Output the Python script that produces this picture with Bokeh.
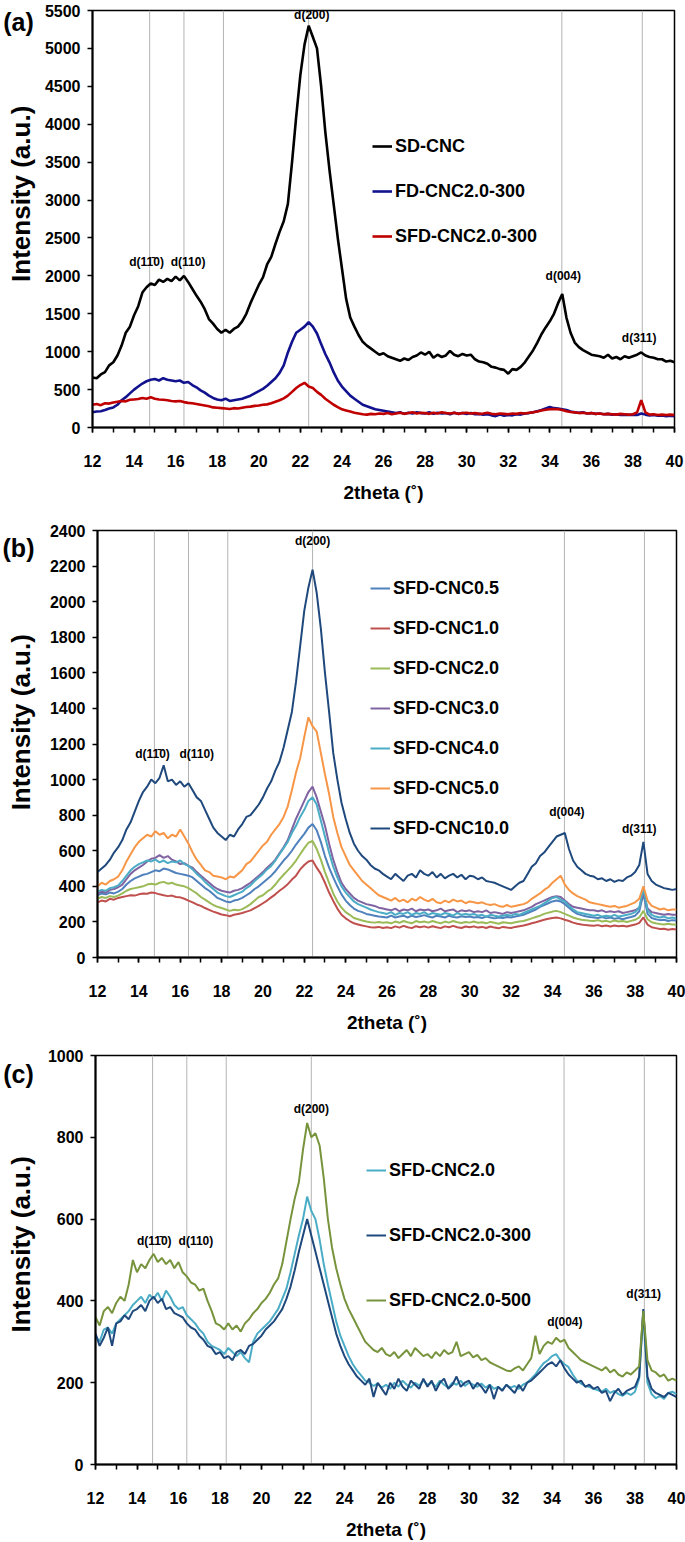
import math
from bokeh.plotting import figure
from bokeh.layouts import column, row
from bokeh.models import (Legend, LegendItem, Span, Label, Range1d,
                          SingleIntervalTicker)
from bokeh.embed import file_html
from bokeh.resources import INLINE

# ---------------- data ----------------
# 2theta sampling grid (12 .. 40, step 0.2)
theta = [round(12 + 0.2 * i, 1) for i in range(141)]

# panel (a)
sd_cnc = [
    660, 650, 700, 730, 820, 860, 950, 1080, 1250, 1330,
    1480, 1600, 1780, 1850, 1900, 1880, 1950, 1920, 1960, 1930,
    1990, 1940, 2000, 1920, 1830, 1740, 1660, 1560, 1430, 1370,
    1300, 1250, 1290, 1250, 1300, 1330, 1400, 1500, 1640, 1760,
    1880, 1980, 2150, 2250, 2420, 2580, 2720, 2950, 3500, 4100,
    4650, 5050, 5300, 5150, 5000, 4500, 3900, 3400, 2950, 2500,
    2100, 1700, 1450, 1330, 1220, 1130, 1080, 1040, 1000, 960,
    980, 940, 920, 900, 880, 910, 890, 930, 950, 990,
    960, 1000, 920, 960, 930, 950, 1010, 960, 940, 970,
    950, 960, 900, 870, 860, 840, 800, 790, 770, 760,
    710, 770, 760, 800, 860, 940, 1020, 1120, 1230, 1320,
    1400, 1500, 1640, 1760, 1450, 1250, 1120, 1060, 1020, 990,
    960, 950, 940, 920, 960, 910, 930, 900, 940, 920,
    940, 960, 990, 950, 930, 920, 900, 900, 870, 880,
    860]
fd_cnc20_300 = [
    200, 210, 215, 230, 250, 265, 300, 360, 400, 450,
    500, 540, 580, 610, 630, 640, 620, 650, 630, 620,
    610, 620, 590, 600, 560, 530, 490, 460, 420, 390,
    370, 360, 380, 350, 360, 370, 380, 400, 420, 450,
    480, 510, 550, 600, 650, 720, 820, 990, 1130, 1250,
    1290, 1330, 1390, 1330, 1240, 1100, 970, 860, 730, 620,
    540, 480, 420, 380, 340, 300, 280, 260, 240, 230,
    220, 210, 200, 190, 200, 180, 195, 185, 200, 190,
    185, 200, 180, 195, 185, 190, 175, 195, 180, 190,
    180, 190, 175, 180, 170, 175, 160, 150, 170, 155,
    165, 160, 175, 170, 185, 190, 200, 215, 230, 250,
    270, 255, 250, 240, 230, 210, 200, 195, 200, 185,
    190, 180, 185, 175, 180, 170, 175, 165, 170, 165,
    170, 165, 185, 170, 160, 165, 155, 160, 150, 155,
    150]
sfd_cnc20_300_a = [
    300, 310, 295, 320, 315, 330, 340, 350, 345, 365,
    370, 375, 390, 380, 400, 380, 370, 365, 360, 350,
    345, 350, 335, 325, 320, 310, 300, 290, 280, 265,
    260, 255, 250, 245, 255, 250, 260, 270, 275, 285,
    290, 300, 305, 320, 340, 360, 385, 420, 470, 520,
    560, 590, 540, 520, 470, 430, 380, 340, 300, 270,
    240, 225, 210, 195, 185, 175, 170, 180, 175, 185,
    180, 190, 175, 185, 195, 180, 190, 200, 185, 195,
    190, 180, 195, 185, 200, 190, 185, 195, 180, 190,
    195, 185, 190, 180, 185, 195, 180, 175, 185, 180,
    175, 185, 180, 190, 185, 195, 200, 210, 225, 235,
    240, 245, 240, 230, 215, 205, 200, 190, 195, 185,
    190, 180, 185, 175, 180, 175, 170, 180, 175, 170,
    175, 200, 360, 200, 170, 175, 165, 170, 165, 170,
    165]

# panel (b)
sfd_cnc05 = [
    350, 360, 355, 365, 360, 370, 385, 410, 430, 445,
    455, 465, 470, 480, 490, 485, 500, 495, 485, 475,
    470, 465, 460, 450, 430, 410, 390, 375, 355, 335,
    325, 315, 310, 320, 325, 335, 350, 365, 385, 400,
    420, 440, 460, 485, 515, 545, 570, 600, 635, 665,
    695, 730, 750, 715, 650, 570, 505, 450, 400, 355,
    320, 295, 275, 262, 255, 245, 240, 235, 230, 228,
    225, 235, 225, 230, 235, 225, 235, 228, 232, 238,
    230, 225, 235, 230, 225, 235, 228, 225, 232, 228,
    230, 225, 228, 222, 230, 225, 220, 225, 222, 228,
    225, 230, 235, 240, 250, 260, 270, 285, 295, 305,
    315, 320, 315, 300, 280, 260, 245, 238, 232, 228,
    225, 222, 228, 220, 225, 218, 222, 215, 222, 228,
    235, 260, 360, 245, 222, 215, 210, 212, 205, 210,
    208]
sfd_cnc10 = [
    310, 320, 315, 330, 325, 335, 340, 345, 350, 348,
    355, 360, 358, 365, 362, 355, 350, 345, 348, 340,
    338, 330, 320, 310, 298, 290, 278, 268, 258, 250,
    242, 238, 232, 240, 245, 250, 258, 265, 278, 290,
    305, 320, 338, 355, 375, 392, 412, 438, 460, 495,
    520, 540, 545, 505, 470, 420, 365, 318, 275, 240,
    220, 205, 192, 186, 180, 175, 170, 168, 172, 166,
    170, 165, 175, 168, 178, 170, 165, 176, 170, 175,
    168, 176, 170, 165, 175, 170, 178, 170, 166, 174,
    170, 175, 168, 172, 166, 174, 168, 164, 172, 168,
    166, 172, 176, 180, 186, 192, 198, 205, 212, 218,
    222, 225, 220, 212, 205, 196, 190, 185, 182, 180,
    178, 182, 176, 180, 174, 180, 176, 178, 174, 180,
    185, 195, 225, 185, 170, 165, 160, 162, 156, 160,
    158]
sfd_cnc20 = [
    330, 340, 335, 345, 340, 348, 360, 375, 385, 390,
    395, 400, 410, 415, 410, 420, 425, 415, 420, 410,
    405, 400, 390, 375, 360, 340, 325, 310, 295, 285,
    278, 270, 262, 268, 265, 272, 285, 300, 320, 340,
    350, 370, 385, 410, 440, 465, 490, 515, 545, 580,
    615, 645, 655, 610, 550, 480, 420, 360, 315, 280,
    255, 240, 222, 215, 208, 202, 198, 196, 200, 195,
    198, 192, 202, 195, 205, 198, 192, 205, 198, 202,
    196, 205, 198, 192, 202, 196, 205, 198, 194, 200,
    196, 202, 195, 198, 192, 200, 195, 190, 198, 195,
    192, 198, 202, 205, 212, 220, 228, 235, 245, 252,
    258, 262, 255, 245, 235, 225, 218, 212, 210, 206,
    205, 210, 202, 206, 200, 208, 202, 205, 200, 206,
    212, 225, 262, 215, 198, 192, 188, 185, 190, 185,
    185]
sfd_cnc30 = [
    360, 370, 365, 380, 385, 395, 410, 440, 470, 490,
    505, 520, 540, 555, 560, 575, 560, 570, 550, 540,
    525, 530, 515, 505, 480, 460, 440, 420, 400, 385,
    375, 370, 365, 375, 380, 390, 405, 420, 440, 460,
    480, 505, 525, 550, 585, 620, 660, 720, 780, 830,
    880, 930, 960, 900, 820, 740, 640, 550, 480, 420,
    385, 360, 335, 320, 310, 300, 295, 290, 280, 275,
    270, 265, 275, 260, 270, 265, 275, 260, 270, 265,
    270, 260, 265, 275, 260, 265, 270, 255, 265, 260,
    265, 255, 260, 255, 265, 250, 255, 250, 245, 255,
    250, 255, 260, 265, 275, 285, 300, 310, 320, 330,
    340, 345, 340, 320, 300, 285, 280, 275, 270, 265,
    265, 260, 265, 255, 260, 255, 260, 250, 255, 260,
    265, 280, 365, 275, 255, 250, 245, 240, 245, 240,
    240]
sfd_cnc40 = [
    370, 380, 375, 390, 395, 405, 430, 460, 490, 510,
    525, 535, 545, 540, 550, 535, 545, 530, 540, 535,
    545, 525, 515, 495, 470, 450, 425, 405, 385, 365,
    355, 345, 340, 350, 360, 370, 390, 405, 430, 450,
    470, 495, 515, 545, 580, 615, 650, 700, 740, 790,
    830, 880, 900, 860, 770, 680, 590, 510, 450, 400,
    365, 340, 315, 300, 290, 280, 270, 262, 255, 250,
    245, 255, 240, 250, 245, 255, 240, 250, 245, 255,
    240, 250, 245, 240, 250, 245, 235, 250, 240, 245,
    240, 245, 235, 240, 230, 240, 235, 230, 235, 240,
    235, 245, 240, 250, 260, 270, 280, 290, 305, 320,
    335, 340, 325, 315, 290, 270, 255, 250, 245, 240,
    235, 240, 230, 235, 230, 240, 230, 235, 240, 245,
    255, 280, 390, 265, 240, 230, 225, 230, 220, 225,
    220]
sfd_cnc50 = [
    400, 420, 410, 430, 440, 455, 490, 540, 580, 620,
    650, 670, 690, 680, 710, 690, 700, 670, 690, 680,
    720, 680, 640, 590, 550, 520, 490, 480, 460, 455,
    450, 440, 455, 450, 470, 490, 525, 540, 570, 600,
    630, 650, 690, 720, 750, 790, 850, 940, 1040, 1120,
    1240, 1350, 1300, 1270, 1150, 1030, 920, 790, 700, 620,
    570, 520, 490, 460, 430, 410, 390, 370, 350, 340,
    330, 320, 335, 315, 325, 310, 330, 320, 340, 325,
    315, 330, 310, 305, 320, 310, 325, 315, 320, 305,
    315, 310, 305, 310, 300, 295, 300, 290, 285, 295,
    285, 290, 295, 300, 310, 330, 345, 360, 380, 395,
    420, 440, 460, 410, 380, 360, 345, 335, 325, 310,
    305, 300, 295, 290, 285, 290, 280, 285, 290, 300,
    310, 330, 400, 320, 290, 280, 270, 275, 265, 270,
    270]
sfd_cnc100 = [
    480, 500, 520, 550, 590, 620, 660, 720, 760, 820,
    880, 930, 960, 1000, 980, 1010, 1080, 990, 1000, 970,
    990, 960, 980, 940, 900, 880, 830, 780, 730, 700,
    680, 660, 690, 680, 720, 750, 790, 800, 830, 860,
    900, 950, 990, 1050, 1100, 1180, 1280, 1380, 1550, 1750,
    1950, 2080, 2180, 2050, 1850, 1600, 1380, 1150, 1000, 870,
    780, 700, 640, 600, 570, 550, 520, 500, 490, 470,
    455, 440, 470, 450, 430, 460, 470, 450, 490, 470,
    460, 480, 450, 470, 445, 460, 470, 450, 465, 440,
    460, 455, 440, 450, 430, 425, 420, 410, 400, 390,
    380, 400, 420, 430, 470, 510, 530, 570, 590, 620,
    650, 680, 690, 700, 610, 545, 510, 490, 470, 460,
    455, 440, 445, 430, 440, 425, 435, 430, 450, 460,
    480, 520, 650, 470, 430, 410, 400, 390, 385, 380,
    385]

# panel (c)
sfd_cnc20_c = [
    315, 300, 330, 335, 320, 345, 355, 365, 375, 390,
    400, 410, 395, 415, 405, 420, 400, 425, 410, 390,
    380, 385, 365, 355, 345, 330, 320, 300, 290, 285,
    280, 270, 285, 275, 265, 275, 260, 250, 300, 320,
    330, 340, 350, 365, 380, 405, 430, 470, 515, 560,
    600, 655, 620, 600, 550, 490, 440, 395, 350, 315,
    290, 265, 245, 230, 218, 205, 200, 192, 198, 188,
    195, 185, 200, 190, 205, 195, 188, 200, 193, 205,
    195, 200, 190, 205, 195, 188, 200, 195, 205, 192,
    200, 195, 190, 198, 188, 195, 185, 190, 182, 195,
    188, 192, 185, 195, 200, 210, 220, 235, 248, 255,
    265, 270, 255, 245, 238, 220, 205, 198, 192, 190,
    185, 182, 178, 185, 175, 180, 172, 168, 175, 170,
    178, 210, 370, 200, 172, 162, 168, 160, 175, 178,
    172]
sfd_cnc20_300_c = [
    320, 290, 310, 335, 290, 345, 350, 365, 355, 375,
    380, 390, 375, 400, 410, 395, 405, 380, 385, 370,
    365, 360, 345, 335, 330, 315, 305, 290, 285, 270,
    275, 260, 265, 255, 275, 280, 270, 290, 295, 305,
    315, 330, 340, 350, 365, 380, 405, 435, 475, 520,
    560, 600, 560, 520, 480, 440, 400, 360, 320, 290,
    265, 245, 230, 215, 205, 195, 210, 165, 200, 185,
    170, 200, 185, 210, 190, 180, 205, 195, 185, 210,
    190, 205, 180, 200, 210, 185, 195, 215, 190, 200,
    205, 185, 200, 190, 175, 195, 160, 190, 180, 195,
    185, 175, 195, 180, 200, 205, 215, 225, 235, 245,
    250, 240, 255, 235, 220, 210, 200, 205, 190, 195,
    185, 190, 175, 180, 155, 175, 185, 170, 180, 185,
    190, 215, 380, 215, 185, 175, 170, 165, 175, 170,
    165]
sfd_cnc20_500_c = [
    360, 340, 375, 385, 370, 395, 410, 400, 440, 500,
    470, 490, 480, 500, 515, 495, 505, 490, 500, 480,
    495, 470, 460, 445, 440, 425, 430, 400, 375, 345,
    340, 330, 345, 330, 340, 325, 345, 355, 370, 380,
    395, 405, 420, 440, 455, 490, 545, 600, 650, 690,
    770, 835, 800, 810, 780, 700, 600, 530, 480, 440,
    405, 380, 360, 340, 320, 300, 290, 280, 275, 285,
    270, 265, 275, 260, 270, 280, 265, 285, 275, 265,
    270, 260, 275, 265, 280, 270, 275, 300, 265, 270,
    275, 262, 268, 255, 260, 250, 245, 240, 235, 230,
    228, 235, 240, 230, 245, 260, 315, 270, 290, 300,
    295, 310, 300, 305, 285, 275, 265, 255, 250, 245,
    240, 235, 230, 238, 225, 232, 220, 215, 225, 220,
    230, 240, 375, 255, 230, 225, 215, 220, 205, 210,
    205]

# reference lines at the reflections
peak_lines = [14.75, 16.4, 18.3, 22.4, 34.58, 38.45]
x_ticks_step = 2

FONT = "Liberation Sans"
STRIP = 40          # left strip holding panel letter and y title
W = 685 - STRIP


def make_fig(height, ymax, ystep, b_top, b_bottom, b_left, b_right):
    p = figure(width=W, height=height, x_range=Range1d(12, 40),
               y_range=Range1d(0, ymax), output_backend="svg",
               toolbar_location=None, min_border_top=b_top,
               min_border_bottom=b_bottom, min_border_left=b_left,
               min_border_right=b_right)
    p.xgrid.visible = False
    p.ygrid.visible = False
    p.background_fill_color = "white"
    p.border_fill_color = "white"
    p.outline_line_color = "black"
    p.outline_line_width = 1.5

    xa = p.xaxis[0]
    xa.ticker = SingleIntervalTicker(interval=x_ticks_step, num_minor_ticks=2)
    xa.axis_line_width = 2
    xa.axis_line_color = "black"
    xa.major_tick_line_color = "black"
    xa.minor_tick_line_color = "black"
    xa.major_tick_line_width = 1.5
    xa.minor_tick_line_width = 1.5
    xa.major_tick_in = 0
    xa.major_tick_out = 5
    xa.minor_tick_in = 0
    xa.minor_tick_out = 5
    xa.major_label_standoff = 22
    xa.major_label_text_font = FONT
    xa.major_label_text_font_style = "bold"
    xa.major_label_text_font_size = "16px"
    xa.major_label_text_color = "black"
    xa.axis_label = "2theta (˚)"
    xa.axis_label_text_font = FONT
    xa.axis_label_text_font_style = "bold"
    xa.axis_label_text_font_size = "19px"
    xa.axis_label_text_color = "black"
    xa.axis_label_standoff = 12

    ya = p.yaxis[0]
    ya.ticker = SingleIntervalTicker(interval=ystep, num_minor_ticks=0)
    ya.axis_line_width = 2
    ya.axis_line_color = "black"
    ya.major_tick_line_color = "black"
    ya.major_tick_line_width = 1.5
    ya.major_tick_in = 0
    ya.major_tick_out = 5
    ya.minor_tick_line_color = None
    ya.major_label_standoff = 7
    ya.major_label_text_font = FONT
    ya.major_label_text_font_style = "bold"
    ya.major_label_text_font_size = "16px"
    ya.major_label_text_color = "black"

    for xl in peak_lines:
        p.add_layout(Span(location=xl, dimension="height", line_color="#b4b4b4",
                          line_width=1, level="underlay"))
    return p


def make_strip(height, letter, letter_y, title_y):
    """Narrow left strip: panel letter and the vertical axis title."""
    s = figure(width=STRIP, height=height, x_range=Range1d(0, STRIP),
               y_range=Range1d(height, 0), output_backend="svg",
               toolbar_location=None, x_axis_type=None, y_axis_type=None,
               title=None, min_border=0, min_border_left=0,
               min_border_right=0, min_border_top=0, min_border_bottom=0)
    s.xgrid.visible = False
    s.ygrid.visible = False
    s.outline_line_color = None
    s.background_fill_color = "white"
    s.border_fill_color = "white"
    s.add_layout(Label(x=18, y=letter_y, text=letter, text_align="center",
                       text_baseline="middle", text_font=FONT,
                       text_font_style="bold", text_font_size="25px",
                       text_color="black"))
    s.add_layout(Label(x=20, y=title_y, text="Intensity (a.u.)",
                       angle=math.pi / 2, text_align="center",
                       text_baseline="middle", text_font=FONT,
                       text_font_style="bold", text_font_size="26px",
                       text_color="black"))
    return s


def add_label(p, x, y, text, size="12px"):
    p.add_layout(Label(x=x, y=y, text=text, text_align="center",
                       text_baseline="middle", text_font=FONT,
                       text_font_style="bold", text_font_size=size,
                       text_color="black"))


def add_legend(p, items, loc, spacing):
    leg = Legend(items=items, location=loc, label_text_font=FONT,
                 label_text_font_style="bold", label_text_font_size="18px",
                 label_text_color="black", glyph_width=20, glyph_height=22,
                 label_height=22, spacing=spacing, padding=0, margin=0,
                 label_standoff=3, border_line_color=None,
                 background_fill_alpha=0)
    p.add_layout(leg)


# ---------------- panel (a) ----------------
HA = 505
pa = make_fig(HA, 5500, 500, 10, 71, 92 - STRIP, 11)
series_a = [("SD-CNC", sd_cnc, "#000000"),
            ("FD-CNC2.0-300", fd_cnc20_300, "#12128f"),
            ("SFD-CNC2.0-300", sfd_cnc20_300_a, "#c00000")]
items = []
for name, vals, col in series_a:
    r = pa.line(theta, vals, line_color=col, line_width=2.6)
    items.append(LegendItem(label=name, renderers=[r]))
add_legend(pa, items, (280, 180), 23)
add_label(pa, 22.55, 5440, "d(200)")
add_label(pa, 14.6, 2180, "d(11\u03040)")
add_label(pa, 16.6, 2180, "d(110)")
add_label(pa, 34.65, 2000, "d(004)")
add_label(pa, 38.3, 1180, "d(311)")
sa = make_strip(HA, "(a)", 14, 222)

# ---------------- panel (b) ----------------
HB = 530
pb = make_fig(HB, 2400, 200, 25, 78, 97 - STRIP, 9)
series_b = [("SFD-CNC0.5", sfd_cnc05, "#4f81bd"),
            ("SFD-CNC1.0", sfd_cnc10, "#c0504d"),
            ("SFD-CNC2.0", sfd_cnc20, "#9bbb59"),
            ("SFD-CNC3.0", sfd_cnc30, "#8064a2"),
            ("SFD-CNC4.0", sfd_cnc40, "#4bacc6"),
            ("SFD-CNC5.0", sfd_cnc50, "#f79646"),
            ("SFD-CNC10.0", sfd_cnc100, "#1f497d")]
items = []
for name, vals, col in series_b:
    r = pb.line(theta, vals, line_color=col, line_width=2)
    items.append(LegendItem(label=name, renderers=[r]))
add_legend(pb, items, (273, 118), 18)
add_label(pb, 22.4, 2340, "d(200)")
add_label(pb, 14.66, 1145, "d(11\u03040)")
add_label(pb, 16.8, 1145, "d(110)")
add_label(pb, 34.7, 815, "d(004)")
add_label(pb, 38.2, 724, "d(311)")
sb = make_strip(HB, "(b)", 22, 238)

# ---------------- panel (c) ----------------
HC = 507
pc = make_fig(HC, 1000, 200, 20, 59, 95 - STRIP, 9)
series_c = [("SFD-CNC2.0", sfd_cnc20_c, "#4bacc6"),
            ("SFD-CNC2.0-300", sfd_cnc20_300_c, "#1f497d"),
            ("SFD-CNC2.0-500", sfd_cnc20_500_c, "#77933c")]
items = []
for name, vals, col in series_c:
    r = pc.line(theta, vals, line_color=col, line_width=2)
    items.append(LegendItem(label=name, renderers=[r]))
add_legend(pc, items, (271, 153), 43)
add_label(pc, 22.4, 868, "d(200)")
add_label(pc, 14.83, 546, "d(11\u03040)")
add_label(pc, 16.84, 546, "d(110)")
add_label(pc, 34.62, 349, "d(004)")
add_label(pc, 38.42, 416, "d(311)")
sc = make_strip(HC, "(c)", 23, 234)

layout = column(row(sa, pa, spacing=0), row(sb, pb, spacing=0),
                row(sc, pc, spacing=0), spacing=0)
open("out.html", "w").write(file_html(layout, INLINE))
